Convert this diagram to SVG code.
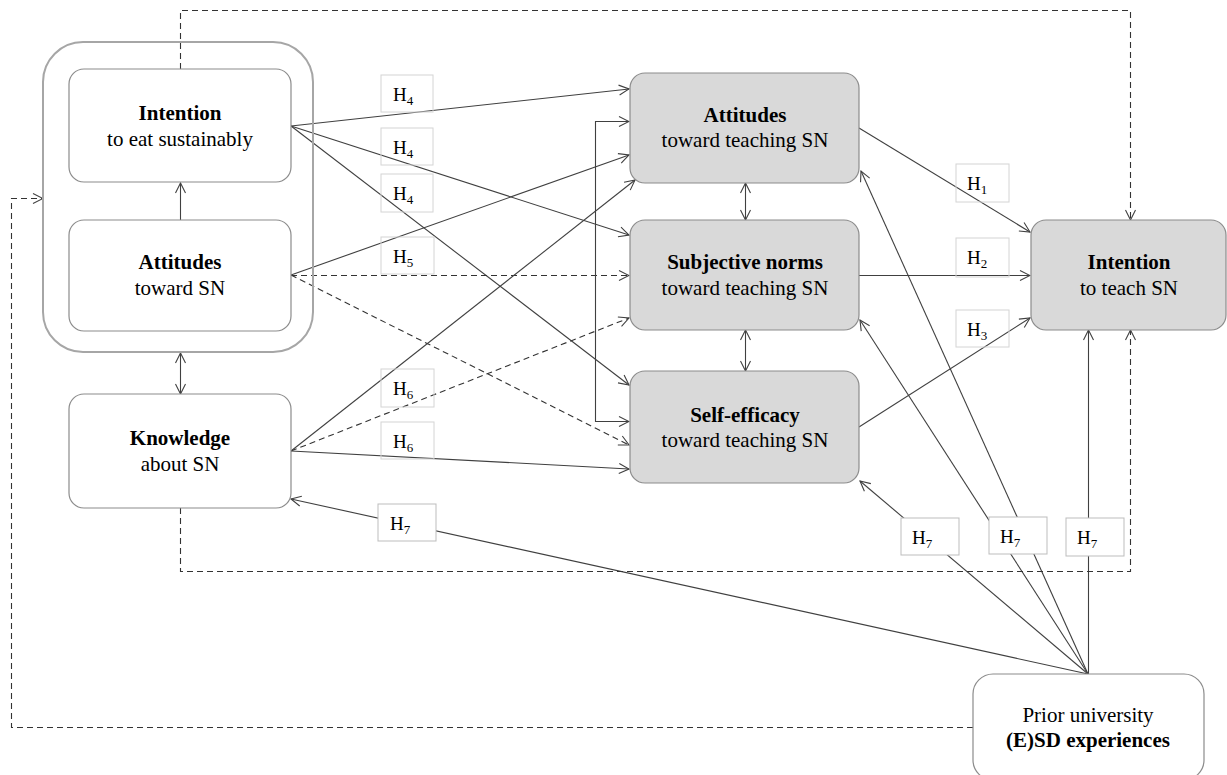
<svg xmlns="http://www.w3.org/2000/svg" width="1227" height="775" viewBox="0 0 1227 775">
<style>
.box{fill:#ffffff;stroke:#8c8c8c;stroke-width:1.2}
.tpb{fill:#d9d9d9;stroke:#8c8c8c;stroke-width:1.2}
.outer{fill:none;stroke:#a6a6a6;stroke-width:2}
text{font-family:"Liberation Serif","Times New Roman",serif;fill:#000}
.t{font-size:21px;text-anchor:middle}
.b{font-weight:bold}
.h{font-size:19px}
.sub{font-size:13px}
.lbl{fill:none;stroke:#d4d4d4;stroke-width:1}
.lbl7{fill:#ffffff;stroke:#bdbdbd;stroke-width:1}
.c{fill:none;stroke:#404040;stroke-width:1.1;marker-end:url(#ah)}
.d{stroke-dasharray:6 4;stroke:#333333}
.both{marker-start:url(#ah)}
</style>
<defs>
<marker id="ah" viewBox="0 0 12 12" refX="11" refY="6" markerWidth="12" markerHeight="12" markerUnits="userSpaceOnUse" orient="auto-start-reverse">
<path d="M1,1 L11,6 L1,11" fill="none" stroke="#404040" stroke-width="1.1"/>
</marker>
</defs>

<g id="connectors">
<path class="c" d="M180.5,220 V183"/>
<path class="c both" d="M180.5,353 V394"/>
<path class="c" d="M291,126 L629,89"/>
<path class="c" d="M291,126 L629,235"/>
<path class="c" d="M291,126 L629,385"/>
<path class="c" d="M291,275 L629,155"/>
<path class="c d" d="M291,275.5 L629,275.5"/>
<path class="c d" d="M291,275 L629,445"/>
<path class="c" d="M291,451 L635,180"/>
<path class="c d" d="M291,451 L629,318"/>
<path class="c" d="M291,451 L629,469"/>
<path class="c both" d="M629,121.5 H595.5 V421.5 H629"/>
<path class="c both" d="M745.5,183 V220"/>
<path class="c both" d="M745.5,330 V371"/>
<path class="c" d="M859,128 L1030,232"/>
<path class="c" d="M859,275.5 L1030,275.5"/>
<path class="c" d="M859,427 L1030,318"/>
<path class="c" d="M1088,674 L291,499"/>
<path class="c" d="M1088,674 L860,481"/>
<path class="c" d="M1088,674 L860,320"/>
<path class="c" d="M1088,674 L861,171"/>
<path class="c" d="M1088.5,674 V330"/>
<path class="c d" d="M180.5,69 V10.5 H1130.5 V220"/>
<path class="c d" d="M180.5,508 V571.5 H1130.5 V330"/>
<path class="c d" d="M973,727.5 H11.5 V198.5 H43"/>
</g>

<g id="group-personal">
<rect class="outer" x="43" y="42" width="270" height="310" rx="40"/>
</g>
<g id="intention-eat">
<rect class="box" x="69" y="69" width="222" height="113" rx="15"/>
<text class="t b" x="180" y="120">Intention</text>
<text class="t" x="180" y="146">to eat sustainably</text>
</g>
<g id="attitudes-sn">
<rect class="box" x="69" y="220" width="222" height="111" rx="15"/>
<text class="t b" x="180" y="269">Attitudes</text>
<text class="t" x="180" y="295">toward SN</text>
</g>
<g id="knowledge">
<rect class="box" x="69" y="394" width="222" height="114" rx="15"/>
<text class="t b" x="180" y="445">Knowledge</text>
<text class="t" x="180" y="471">about SN</text>
</g>
<g id="attitudes-teaching">
<rect class="tpb" x="630" y="73" width="229" height="110" rx="15"/>
<text class="t b" x="745" y="122">Attitudes</text>
<text class="t" x="745" y="147">toward teaching SN</text>
</g>
<g id="subjective-norms">
<rect class="tpb" x="630" y="220" width="229" height="110" rx="15"/>
<text class="t b" x="745" y="269">Subjective norms</text>
<text class="t" x="745" y="295">toward teaching SN</text>
</g>
<g id="self-efficacy">
<rect class="tpb" x="630" y="371" width="229" height="112" rx="15"/>
<text class="t b" x="745" y="422">Self-efficacy</text>
<text class="t" x="745" y="447">toward teaching SN</text>
</g>
<g id="intention-teach">
<rect class="tpb" x="1031" y="220" width="195" height="110" rx="15"/>
<text class="t b" x="1129" y="269">Intention</text>
<text class="t" x="1129" y="295">to teach SN</text>
</g>
<g id="prior-experiences">
<rect class="box" x="973" y="674" width="231" height="106" rx="20"/>
<text class="t" x="1088" y="722">Prior university</text>
<text class="t b" x="1088" y="747">(E)SD experiences</text>
</g>

<g id="labels">
<rect class="lbl" x="381" y="75" width="52" height="37"/>
<text class="h" x="393" y="101">H<tspan class="sub" dy="4">4</tspan></text>
<rect class="lbl" x="381" y="128" width="52" height="37"/>
<text class="h" x="393" y="154">H<tspan class="sub" dy="4">4</tspan></text>
<rect class="lbl" x="381" y="174" width="52" height="38"/>
<text class="h" x="393" y="200">H<tspan class="sub" dy="4">4</tspan></text>
<rect class="lbl" x="381" y="237" width="53" height="37"/>
<text class="h" x="393" y="263">H<tspan class="sub" dy="4">5</tspan></text>
<rect class="lbl" x="381" y="369" width="53" height="38"/>
<text class="h" x="393" y="395">H<tspan class="sub" dy="4">6</tspan></text>
<rect class="lbl" x="381" y="422" width="53" height="37"/>
<text class="h" x="393" y="448">H<tspan class="sub" dy="4">6</tspan></text>
<rect class="lbl" x="956" y="164" width="53" height="38"/>
<text class="h" x="967" y="190">H<tspan class="sub" dy="4">1</tspan></text>
<rect class="lbl" x="956" y="238" width="53" height="39"/>
<text class="h" x="967" y="264">H<tspan class="sub" dy="4">2</tspan></text>
<rect class="lbl" x="956" y="310" width="53" height="37"/>
<text class="h" x="967" y="336">H<tspan class="sub" dy="4">3</tspan></text>
<rect class="lbl7" x="378" y="504" width="58" height="37"/>
<text class="h" x="390" y="530">H<tspan class="sub" dy="4">7</tspan></text>
<rect class="lbl7" x="901" y="518" width="58" height="37"/>
<text class="h" x="912" y="544">H<tspan class="sub" dy="4">7</tspan></text>
<rect class="lbl7" x="989" y="517" width="58" height="37"/>
<text class="h" x="1000" y="543">H<tspan class="sub" dy="4">7</tspan></text>
<rect class="lbl7" x="1066" y="518" width="58" height="38"/>
<text class="h" x="1077" y="544">H<tspan class="sub" dy="4">7</tspan></text>
</g>
</svg>
